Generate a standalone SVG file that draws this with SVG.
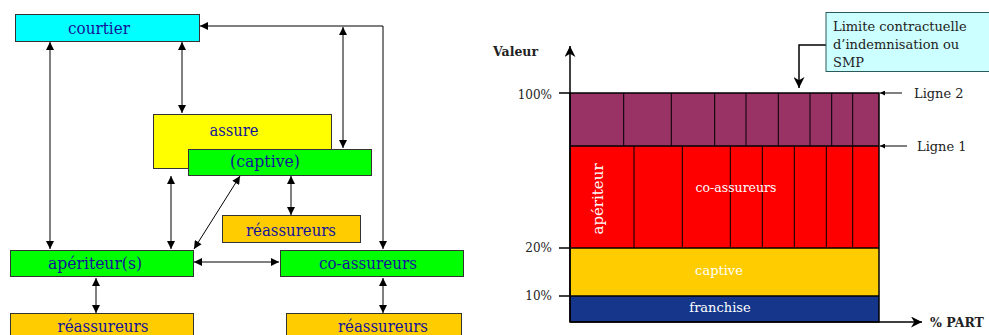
<svg xmlns="http://www.w3.org/2000/svg" width="989" height="335" viewBox="0 0 989 335">
<style>
.box{stroke:#333;stroke-width:1}
.lbl{font-family:"DejaVu Serif","Liberation Serif",serif;font-size:17px;fill:#14149a;text-anchor:middle}
.con{stroke:#000;stroke-width:1;fill:none}
.ax{stroke:#000;stroke-width:1.5;fill:none}
.div{stroke:#000;stroke-width:1}
.wt{font-family:"DejaVu Serif","Liberation Serif",serif;fill:#fff;text-anchor:middle}
.dk{font-family:"DejaVu Serif","Liberation Serif",serif;fill:#222}
</style>
<defs>
<marker id="ah" viewBox="0 0 10 10" refX="10" refY="5" markerUnits="userSpaceOnUse" markerWidth="9" markerHeight="8" orient="auto-start-reverse">
<path d="M0,0 L10,5 L0,10 z" fill="#000"/>
</marker>
<marker id="st" viewBox="0 0 10 10" refX="10" refY="5" markerUnits="userSpaceOnUse" markerWidth="11" markerHeight="11" orient="auto">
<path d="M0,0 L10,5 L0,10 L3,5 z" fill="#000"/>
</marker>
<marker id="sm" viewBox="0 0 10 10" refX="10" refY="5" markerUnits="userSpaceOnUse" markerWidth="6" markerHeight="5" orient="auto">
<path d="M0,0 L10,5 L0,10 z" fill="#000"/>
</marker>
</defs>

<g id="connectors">
<polyline class="con" points="383,249 383,26 200,26" marker-start="url(#ah)" marker-end="url(#ah)"/>
<line class="con" x1="50" y1="42" x2="50" y2="249" marker-start="url(#ah)" marker-end="url(#ah)"/>
<line class="con" x1="182" y1="42" x2="182" y2="113" marker-start="url(#ah)" marker-end="url(#ah)"/>
<line class="con" x1="343" y1="27" x2="343" y2="148" marker-start="url(#ah)" marker-end="url(#ah)"/>
<line class="con" x1="171" y1="176" x2="171" y2="249" marker-start="url(#ah)" marker-end="url(#ah)"/>
<line class="con" x1="240" y1="176" x2="194" y2="249" marker-start="url(#ah)" marker-end="url(#ah)"/>
<line class="con" x1="291" y1="176" x2="291" y2="215" marker-start="url(#ah)" marker-end="url(#ah)"/>
<line class="con" x1="194" y1="262" x2="279" y2="262" marker-start="url(#ah)" marker-end="url(#ah)"/>
<line class="con" x1="96" y1="278" x2="96" y2="313" marker-start="url(#ah)" marker-end="url(#ah)"/>
<line class="con" x1="383" y1="278" x2="383" y2="313" marker-start="url(#ah)" marker-end="url(#ah)"/>
</g>

<g id="courtier"><rect class="box" x="15.5" y="14.5" width="184" height="27" fill="#00ffff"/><text class="lbl" x="99" y="34" textLength="62" lengthAdjust="spacingAndGlyphs">courtier</text></g>
<g id="assure"><rect class="box" x="153.5" y="114.5" width="178" height="54" fill="#ffff00"/><text class="lbl" x="234" y="136" textLength="49" lengthAdjust="spacingAndGlyphs">assure</text></g>
<g id="captive"><rect class="box" x="188.5" y="149.5" width="183" height="26" fill="#00ff00"/><text class="lbl" x="265" y="167" textLength="70" lengthAdjust="spacingAndGlyphs">(captive)</text></g>
<g id="reass-captive"><rect class="box" x="222.5" y="215.5" width="138" height="27" fill="#ffcc00"/><text class="lbl" x="291" y="236" textLength="90" lengthAdjust="spacingAndGlyphs">réassureurs</text></g>
<g id="aperiteur"><rect class="box" x="10.5" y="250.5" width="183" height="26" fill="#00ff00"/><text class="lbl" x="95" y="269" textLength="94" lengthAdjust="spacingAndGlyphs">apériteur(s)</text></g>
<g id="coassureurs"><rect class="box" x="280.5" y="250.5" width="183" height="26" fill="#00ff00"/><text class="lbl" x="368" y="269" textLength="98" lengthAdjust="spacingAndGlyphs">co-assureurs</text></g>
<g id="reass-aperiteur"><rect class="box" x="10.5" y="313.5" width="183" height="27" fill="#ffcc00"/><text class="lbl" x="103" y="332" textLength="91" lengthAdjust="spacingAndGlyphs">réassureurs</text></g>
<g id="reass-coassureurs"><rect class="box" x="286.5" y="313.5" width="175" height="27" fill="#ffcc00"/><text class="lbl" x="383" y="332" textLength="90" lengthAdjust="spacingAndGlyphs">réassureurs</text></g>

<g id="chart">
<rect x="570" y="93" width="309" height="53" fill="#993366"/>
<rect x="570" y="146" width="309" height="102" fill="#ff0000"/>
<rect x="570" y="248" width="309" height="48" fill="#ffcc00"/>
<rect x="570" y="296" width="309" height="26" fill="#15368a"/>
<g class="div">
<line x1="623.7" y1="93" x2="623.7" y2="146"/><line x1="671.3" y1="93" x2="671.3" y2="146"/><line x1="714.7" y1="93" x2="714.7" y2="146"/><line x1="746" y1="93" x2="746" y2="146"/><line x1="778.3" y1="93" x2="778.3" y2="146"/><line x1="810" y1="93" x2="810" y2="146"/><line x1="831.7" y1="93" x2="831.7" y2="146"/><line x1="852.7" y1="93" x2="852.7" y2="146"/>
<line x1="634" y1="146" x2="634" y2="248"/><line x1="682.3" y1="146" x2="682.3" y2="248"/><line x1="730.3" y1="146" x2="730.3" y2="248"/><line x1="762.3" y1="146" x2="762.3" y2="248"/><line x1="794.3" y1="146" x2="794.3" y2="248"/><line x1="826.3" y1="146" x2="826.3" y2="248"/><line x1="852.7" y1="146" x2="852.7" y2="248"/>
</g>
<g class="ax">
<rect x="570" y="93" width="309" height="229"/>
<line x1="570" y1="146" x2="879" y2="146"/>
<line x1="570" y1="248" x2="879" y2="248"/>
<line x1="570" y1="296" x2="879" y2="296"/>
<line x1="559" y1="93" x2="570" y2="93"/>
<line x1="559" y1="248" x2="570" y2="248"/>
<line x1="559" y1="296" x2="570" y2="296"/>
<line x1="570" y1="322" x2="570" y2="46" marker-end="url(#st)"/>
<line x1="570" y1="322" x2="922" y2="322" marker-end="url(#st)"/>
</g>
<text class="wt" font-size="15" transform="translate(603,199) rotate(-90)">apériteur</text>
<text class="wt" font-size="12.5" x="736" y="192">co-assureurs</text>
<text class="wt" font-size="13" x="719" y="275">captive</text>
<text class="wt" font-size="13" x="720" y="312">franchise</text>
<text class="dk" font-size="12" x="552" y="99" text-anchor="end">100%</text>
<text class="dk" font-size="12" x="552" y="252" text-anchor="end">20%</text>
<text class="dk" font-size="12" x="552" y="300" text-anchor="end">10%</text>
<text class="dk" font-size="12.5" font-weight="bold" x="493" y="56">Valeur</text>
<text class="dk" font-size="12.5" font-weight="bold" x="930" y="327">% PART</text>
<text class="dk" font-size="13" x="914" y="98">Ligne 2</text>
<text class="dk" font-size="13" x="917" y="151">Ligne 1</text>
<line x1="902" y1="93" x2="880" y2="93" stroke="#000" stroke-width="1" marker-end="url(#sm)"/>
<line x1="907" y1="146" x2="880" y2="146" stroke="#000" stroke-width="1" marker-end="url(#sm)"/>
</g>

<g id="callout">
<polyline points="826,45 799,45 799,88" stroke="#000" stroke-width="1.5" fill="none" marker-end="url(#st)"/>
<rect x="826" y="12.5" width="170" height="59" fill="#ccffff" stroke="#2a5a5a" stroke-width="1"/>
<text class="dk" font-size="13" x="833" y="31">Limite contractuelle</text>
<text class="dk" font-size="13" x="833" y="49">d’indemnisation ou</text>
<text class="dk" font-size="13" x="833" y="67">SMP</text>
</g>
</svg>
